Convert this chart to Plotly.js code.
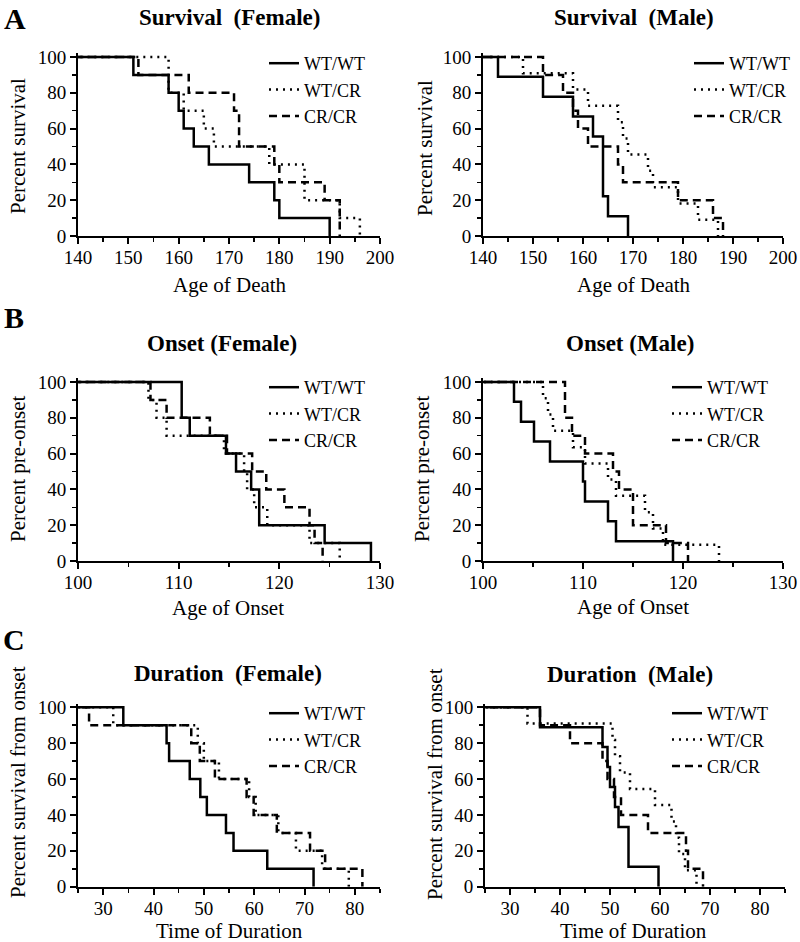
<!DOCTYPE html>
<html>
<head>
<meta charset="utf-8">
<script src="https://cdn.plot.ly/plotly-3.0.1.min.js"></script>
<style>
  html, body { margin: 0; padding: 0; background: #fff; }
  #chart { width: 800px; height: 942px; }
</style>
</head>
<body>
<div id="chart"></div>
<script>
// Kaplan-Meier step curves (event times, % remaining after each event)
const groups = ['WT/WT', 'WT/CR', 'CR/CR'];

// Survival (Female)
const survF_wtwt_t = [151, 158, 160, 161, 163, 166, 174, 179, 180, 190];
const survF_wtwt_p = [90, 80, 70, 60, 50, 40, 30, 20, 10, 0];
const survF_wtcr_t = [158, 161, 165, 167, 178, 185, 192, 196];
const survF_wtcr_p = [80, 70, 60, 50, 40, 20, 10, 0];
const survF_crcr_t = [152, 162, 171, 172, 179, 180, 189, 192];
const survF_crcr_p = [90, 80, 70, 50, 40, 30, 20, 0];

// Survival (Male)
const survM_wtwt_t = [143, 152, 158, 162, 164, 165, 169];
const survM_wtwt_p = [88.9, 77.8, 66.7, 55.6, 22.2, 11.1, 0];
const survM_wtcr_t = [148, 158, 161, 167, 168, 169, 173, 174, 179, 183, 187];
const survM_wtcr_p = [90.9, 81.8, 72.7, 63.6, 54.5, 45.5, 36.4, 27.3, 18.2, 9.1, 0];
const survM_crcr_t = [152, 156, 158, 159, 161, 167, 168, 179, 186, 188];
const survM_crcr_p = [90, 80, 70, 60, 50, 40, 30, 20, 10, 0];

// Onset (Female)
const onsF_wtwt_t = [110.3, 111.1, 114.7, 115.7, 117.2, 118, 124.5, 129.1];
const onsF_wtwt_p = [80, 70, 60, 50, 40, 20, 10, 0];
const onsF_wtcr_t = [107, 107.8, 108.8, 114.5, 116.5, 116.8, 117.5, 118.8, 123, 126];
const onsF_wtcr_p = [90, 80, 70, 60, 50, 40, 30, 20, 10, 0];
const onsF_crcr_t = [107.2, 108.8, 113.1, 114.8, 117.3, 118.7, 120.5, 123, 123.5, 124.3];
const onsF_crcr_p = [90, 80, 70, 60, 50, 40, 30, 20, 10, 0];

// Onset (Male)
const onsM_wtwt_t = [103.1, 103.8, 105.1, 106.7, 110, 110.2, 112.5, 113.3, 119];
const onsM_wtwt_p = [88.9, 77.8, 66.7, 55.6, 44.4, 33.3, 22.2, 11.1, 0];
const onsM_wtcr_t = [106, 106.5, 107, 109, 110.2, 112.5, 113.3, 116.2, 117, 118, 123.6];
const onsM_wtcr_p = [90.9, 81.8, 72.7, 63.6, 54.5, 45.5, 36.4, 27.3, 18.2, 9.1, 0];
const onsM_crcr_t = [108.2, 108.9, 110.2, 113, 113.6, 115, 118.3, 120.5];
const onsM_crcr_p = [80, 70, 60, 50, 40, 20, 10, 0];

// Duration (Female)
const durF_wtwt_t = [34, 42.6, 43.1, 47.2, 49.3, 50.6, 54.4, 55.9, 62.6, 71.8];
const durF_wtwt_p = [90, 80, 70, 60, 50, 40, 30, 20, 10, 0];
const durF_wtcr_t = [32, 48.8, 50, 53, 59, 60.3, 64.8, 68.3, 73.5, 78.8];
const durF_wtcr_p = [90, 80, 70, 60, 50, 40, 30, 20, 10, 0];
const durF_crcr_t = [27.2, 47.5, 49.2, 52.2, 58.5, 59.9, 64.5, 71.1, 74.1, 81.5];
const durF_crcr_p = [90, 80, 70, 60, 50, 40, 30, 20, 10, 0];

// Duration (Male)
const durM_wtwt_t = [36, 48.5, 49.5, 50, 51, 51.7, 53.7, 59.7];
const durM_wtwt_p = [88.9, 77.8, 66.7, 55.6, 44.4, 33.3, 11.1, 0];
const durM_wtcr_t = [33.5, 50.5, 51, 52, 54, 59, 62.3, 63.2, 63.8, 65, 67.3];
const durM_wtcr_p = [90.9, 81.8, 72.7, 63.6, 54.5, 45.5, 36.4, 27.3, 18.2, 9.1, 0];
const durM_crcr_t = [36, 42, 48.5, 49.5, 50.8, 52.2, 57.6, 65.2, 65.6, 68.6];
const durM_crcr_p = [90, 80, 70, 60, 50, 40, 30, 20, 10, 0];

const serif = 'Liberation Serif, Times New Roman, serif';
const lineStyles = [
    { color: 'black', width: 2.5, dash: 'solid' },
    { color: 'black', width: 2.5, dash: '2px,5px' },
    { color: 'black', width: 2.5, dash: '8px,5px' }
];

// all curves start at 100% at time 0 (clipped by the axis range)
function curve(t, p, i, n) {
    return {
        x: [0].concat(t),
        y: [100].concat(p),
        type: 'scatter',
        mode: 'lines',
        line: Object.assign({ shape: 'hv' }, lineStyles[i]),
        name: groups[i],
        xaxis: n === 1 ? 'x' : 'x' + n,
        yaxis: n === 1 ? 'y' : 'y' + n,
        legend: n === 1 ? 'legend' : 'legend' + n,
        hoverinfo: 'skip'
    };
}

const data = [
    curve(survF_wtwt_t, survF_wtwt_p, 0, 1), curve(survF_wtcr_t, survF_wtcr_p, 1, 1), curve(survF_crcr_t, survF_crcr_p, 2, 1),
    curve(survM_wtwt_t, survM_wtwt_p, 0, 2), curve(survM_wtcr_t, survM_wtcr_p, 1, 2), curve(survM_crcr_t, survM_crcr_p, 2, 2),
    curve(onsF_wtwt_t, onsF_wtwt_p, 0, 3), curve(onsF_wtcr_t, onsF_wtcr_p, 1, 3), curve(onsF_crcr_t, onsF_crcr_p, 2, 3),
    curve(onsM_wtwt_t, onsM_wtwt_p, 0, 4), curve(onsM_wtcr_t, onsM_wtcr_p, 1, 4), curve(onsM_crcr_t, onsM_crcr_p, 2, 4),
    curve(durF_wtwt_t, durF_wtwt_p, 0, 5), curve(durF_wtcr_t, durF_wtcr_p, 1, 5), curve(durF_crcr_t, durF_crcr_p, 2, 5),
    curve(durM_wtwt_t, durM_wtwt_p, 0, 6), curve(durM_wtcr_t, durM_wtcr_p, 1, 6), curve(durM_crcr_t, durM_crcr_p, 2, 6)
];

const W = 800, H = 942;
const px = v => v / W;
const py = v => 1 - v / H;

function xax(dom, range, anchor, minorStep) {
    return {
        domain: dom, range: range, anchor: anchor,
        showgrid: false, zeroline: false, showline: true, linecolor: 'black', linewidth: 2,
        ticks: 'outside', ticklen: 6, tickwidth: 2, tickcolor: 'black', dtick: 10, tick0: 0,
        ticklabelstandoff: -3,
        minor: { dtick: minorStep, ticks: 'outside', ticklen: 4, tickwidth: 1.5, tickcolor: 'black' },
        tickfont: { family: serif, size: 19, color: 'black' }, fixedrange: true
    };
}
function yax(dom, anchor) {
    return {
        domain: dom, range: [0, 102], anchor: anchor,
        showgrid: false, zeroline: false, showline: true, linecolor: 'black', linewidth: 2,
        ticks: 'outside', ticklen: 6, tickwidth: 2, tickcolor: 'black', dtick: 20, tick0: 0,
        minor: { dtick: 10, ticks: 'outside', ticklen: 4, tickwidth: 1.5, tickcolor: 'black' },
        tickfont: { family: serif, size: 19, color: 'black' }, fixedrange: true
    };
}

const xL = [px(78), px(380)], xR = [px(483), px(783)], xRc = [px(485), px(785)];
const rowA = [py(236), py(53.4)], rowB = [py(561), py(378.4)], rowC = [py(886.7), py(703.7)];

function leg(x, y) {
    return {
        x: px(x), y: py(y), xanchor: 'left', yanchor: 'top',
        bgcolor: 'rgba(0,0,0,0)', borderwidth: 0, tracegroupgap: 0,
        font: { family: serif, size: 18, color: 'black' }
    };
}

function ann(text, x, y, size, angle) {
    return { text: text, x: px(x), y: py(y), xref: 'paper', yref: 'paper',
        xanchor: 'center', yanchor: 'middle', showarrow: false, textangle: angle || 0,
        font: { family: serif, size: size, color: 'black' } };
}
const title = (t, x, y) => ann('<b>' + t + '</b>', x, y, 23);
const label = (t, x, y, a) => ann(t, x, y, 21, a);
const letter = (t, x, y) => ann('<b>' + t + '</b>', x, y, 30);

const layout = {
    width: W, height: H,
    margin: { l: 0, r: 0, t: 0, b: 0 },
    paper_bgcolor: 'white', plot_bgcolor: 'white',
    showlegend: true,
    xaxis: xax(xL, [140, 200], 'y', 5), yaxis: yax(rowA, 'x'),
    xaxis2: xax(xR, [140, 200], 'y2', 5), yaxis2: yax(rowA, 'x2'),
    xaxis3: xax(xL, [100, 130], 'y3', 5), yaxis3: yax(rowB, 'x3'),
    xaxis4: xax(xR, [100, 130], 'y4', 5), yaxis4: yax(rowB, 'x4'),
    xaxis5: xax(xL, [25, 85], 'y5', 5), yaxis5: yax(rowC, 'x5'),
    xaxis6: xax(xRc, [25, 85], 'y6', 5), yaxis6: yax(rowC, 'x6'),
    legend: leg(264, 45),
    legend2: leg(689, 45),
    legend3: leg(264, 369),
    legend4: leg(667, 369),
    legend5: leg(264, 695),
    legend6: leg(667, 695),
    annotations: [
        letter('A', 15, 19), letter('B', 14, 317), letter('C', 14, 639),
        title('Survival&nbsp;&nbsp;(Female)', 230, 18),
        title('Survival&nbsp;&nbsp;(Male)', 634, 18),
        title('Onset (Female)', 222, 343),
        title('Onset (Male)', 630, 344),
        title('Duration&nbsp;&nbsp;(Female)', 228, 673),
        title('Duration&nbsp;&nbsp;(Male)', 630, 674),
        label('Age of Death', 230, 285), label('Age of Death', 634, 285),
        label('Age of Onset', 228, 608), label('Age of Onset', 633, 607),
        label('Time of Duration', 230, 931), label('Time of Duration', 633, 931),
        label('Percent survival', 18, 146, -90), label('Percent survival', 425, 148, -90),
        label('Percent pre-onset', 18, 469, -90), label('Percent pre-onset', 422, 469, -90),
        label('Percent survival from onset', 18, 782, -90), label('Percent survival from onset', 435, 784, -90)
    ]
};

Plotly.newPlot('chart', data, layout, { displayModeBar: false, staticPlot: true });
</script>
</body>
</html>
